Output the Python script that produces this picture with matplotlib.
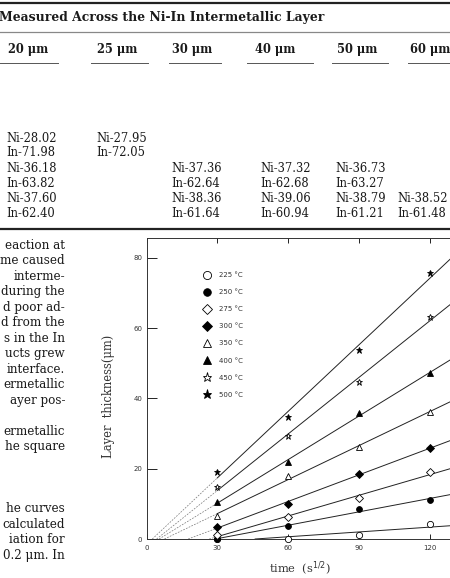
import matplotlib.pyplot as plt
import numpy as np

# ---- page (table + text) data ----
title = "Measured Across the Ni-In Intermetallic Layer"
col_heads = ["20 μm", "25 μm", "30 μm", "40 μm", "50 μm", "60 μm"]
col_20 = ["Ni-28.02", "In-71.98", "Ni-36.18", "In-63.82", "Ni-37.60", "In-62.40"]
col_25 = ["Ni-27.95", "In-72.05", "", "", "", ""]
col_30 = ["", "", "Ni-37.36", "In-62.64", "Ni-38.36", "In-61.64"]
col_40 = ["", "", "Ni-37.32", "In-62.68", "Ni-39.06", "In-60.94"]
col_50 = ["", "", "Ni-36.73", "In-63.27", "Ni-38.79", "In-61.21"]
col_60 = ["", "", "", "", "Ni-38.52", "In-61.48"]

body_lines = ["eaction at", "me caused", "interme-", "during the", "d poor ad-",
              "d from the", "s in the In", "ucts grew", "interface.", "ermetallic",
              "ayer pos-", "", "ermetallic", "he square", "", "", "",
              "he curves", "calculated", "iation for", "0.2 μm. In"]

# ---- chart data ----
times = [30, 60, 90, 120]
temps = ["225", "250", "275", "300", "350", "400", "450", "500"]
th_225 = [0.0, 0.0, 1.1, 4.2]
th_250 = [0.0, 3.7, 8.5, 11.1]
th_275 = [1.2, 6.2, 11.6, 19.0]
th_300 = [3.5, 10.0, 18.5, 25.9]
th_350 = [6.6, 18.0, 26.3, 36.1]
th_400 = [10.4, 21.9, 35.8, 47.1]
th_450 = [14.7, 29.2, 44.7, 63.2]
th_500 = [19.0, 34.7, 53.7, 75.8]
series = [th_225, th_250, th_275, th_300, th_350, th_400, th_450, th_500]
markers = ['o', 'o', 'D', 'D', '^', '^', '*', '*']
filled = [False, True, False, True, False, True, False, True]
sizes = [4.5, 4.2, 3.6, 3.8, 4.0, 4.0, 5.0, 5.0]

W, H = 450, 578
fig = plt.figure(figsize=(W / 100, H / 100), dpi=100)

# overlay in pixel coordinates for the page
pg = fig.add_axes([0, 0, 1, 1], zorder=0)
pg.set_xlim(0, W)
pg.set_ylim(H, 0)
pg.axis('off')

serif = 'DejaVu Serif'
ink = '#1a1a1a'
pg.plot([0, W], [3, 3], color='#222222', lw=1.6)
pg.text(-1, 18, title, fontsize=8.9, fontweight='bold', family=serif, color=ink,
        ha='left', va='center')
pg.plot([0, W], [32, 32], color='#888888', lw=0.9)

head_x = [8, 97, 172, 255, 337, 410]
rule_x = [(0, 58), (91, 148), (169, 221), (247, 313), (332, 388), (408, 450)]
for hx, txt, (a, b) in zip(head_x, col_heads, rule_x):
    pg.text(hx, 49, txt, fontsize=8.3, fontweight='bold', family=serif, color=ink,
            ha='left', va='center')
    pg.plot([a, b], [63, 63], color='#555555', lw=0.7)

col_x = [6, 96, 171, 260, 335, 397]
row_y = [138.3, 152.7, 168.3, 183.3, 198.3, 213.3]
for cx, col in zip(col_x, [col_20, col_25, col_30, col_40, col_50, col_60]):
    for ry, txt in zip(row_y, col):
        if txt:
            pg.text(cx, ry, txt, fontsize=8.3, family=serif, color=ink,
                    ha='left', va='center')
pg.plot([0, W], [228.5, 228.5], color='#222222', lw=1.6)

for i, txt in enumerate(body_lines):
    if txt:
        pg.text(65, 245.3 + 15.5 * i, txt, fontsize=8.6, family=serif, color=ink,
                ha='right', va='center')

# ---- chart ----
x_max, y_max = 130, 85.7
ax = fig.add_axes([146.5 / W, (H - 539) / H, 130 * 2.3625 / W, 301.3 / H], zorder=2)
ax.set_facecolor('none')
ax.set_xlim(0, x_max)
ax.set_ylim(0, y_max)

for vals, m, f, s, t in zip(series, markers, filled, sizes, temps):
    k, b = np.polyfit(times, vals, 1)
    x0 = -b / k
    xs = max(x0, times[0])
    ax.plot([xs, x_max], [k * xs + b, k * x_max + b], color='#222222', lw=0.7)
    if x0 < times[0]:
        ax.plot([x0, times[0]], [0, k * times[0] + b], color='#777777', lw=0.5,
                dashes=(2.5, 1.8))
    ax.plot(times, vals, ls='none', marker=m, ms=s, mew=0.6, mec='black',
            mfc='black' if f else 'white', clip_on=False, label=f"{t} °C", zorder=3)

ax.legend(loc='upper left', bbox_to_anchor=(0.1825, 0.886), frameon=False,
          fontsize=5, labelspacing=1.6, handlelength=1.2, handletextpad=1.17,
          borderpad=0, borderaxespad=0, markerscale=1.3, labelcolor='#333333')

for side in ['top', 'left', 'bottom']:
    ax.spines[side].set_linewidth(0.7)
    ax.spines[side].set_color('#333333')
ax.spines['right'].set_visible(False)

ax.set_xticks([0, 30, 60, 90, 120])
ax.set_yticks([0, 20, 40, 60, 80])
ax.xaxis.set_tick_params(direction='in', length=3.5, width=0.6, top=True,
                         labeltop=False, labelsize=5, pad=4, labelcolor='#333333')
ax.yaxis.set_tick_params(direction='in', length=7.5, width=0.6, labelsize=5, pad=3,
                         labelcolor='#333333')

ax.set_xlabel("time  (s$^{1/2}$)", fontsize=8.2, family=serif, color='#333333')
ax.set_ylabel("Layer  thickness(μm)", fontsize=8.3, family=serif, color='#333333')
ax.xaxis.set_label_coords(0.5, -0.07)
ax.yaxis.set_label_coords(-0.103, 0.475)

fig.savefig("out.png", dpi=100)
